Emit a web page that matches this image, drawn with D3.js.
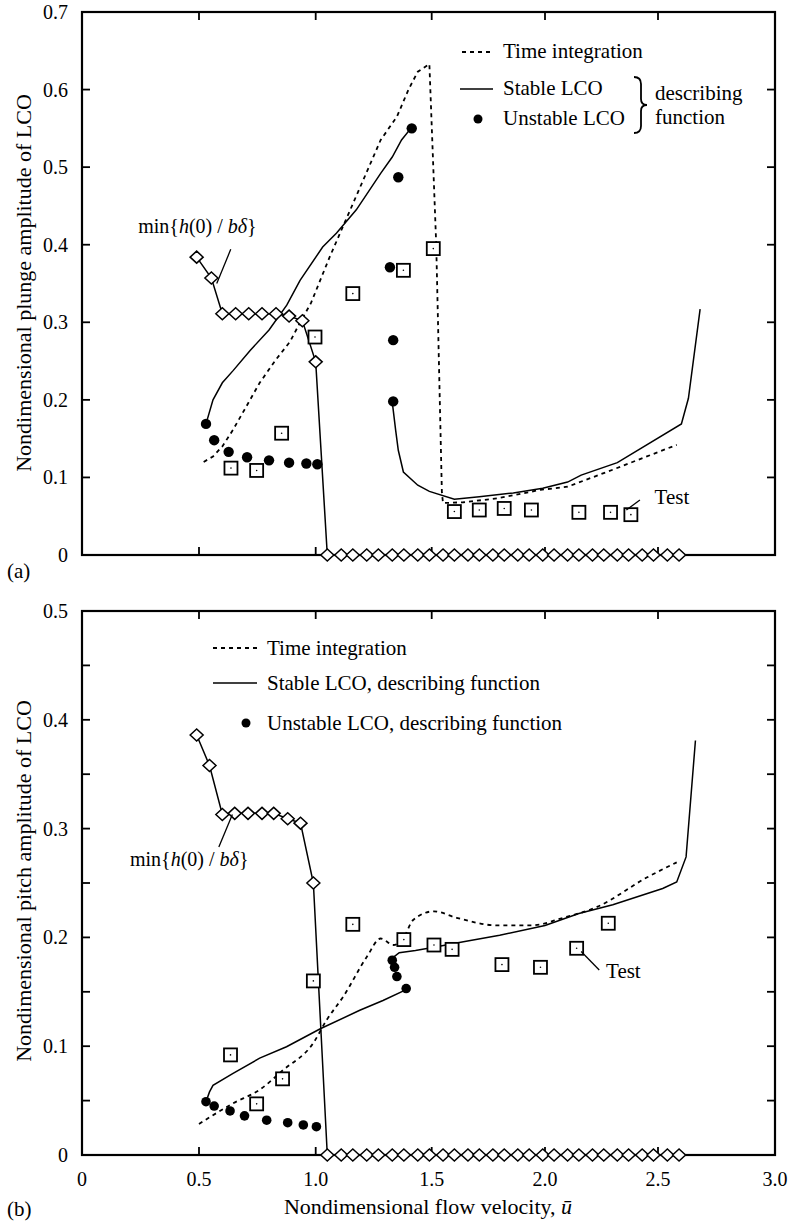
<!DOCTYPE html>
<html lang="en">
<head>
<meta charset="UTF-8">
<title>LCO amplitude vs flow velocity</title>
<script src="https://d3js.org/d3.v7.min.js"></script>
<style>
  body { margin: 0; background: #fff; }
  svg { display: block; font-family: "Liberation Serif", "Times New Roman", serif; }
  .frame { fill: none; stroke: #000; stroke-width: 2.2; }
  .tick { stroke: #000; stroke-width: 1.8; }
  .solid { fill: none; stroke: #000; stroke-width: 1.5; }
  .dashed { fill: none; stroke: #000; stroke-width: 1.8; stroke-dasharray: 4 4; }
  .sq { fill: #fff; stroke: #000; stroke-width: 1.8; }
  .dia { fill: #fff; stroke: #000; stroke-width: 1.5; }
  .leader { stroke: #000; stroke-width: 1.3; }
</style>
</head>
<body>
<svg width="790" height="1224"></svg>
<script>
// shared axes
const xTickVals = [0, 0.5, 1.0, 1.5, 2.0, 2.5, 3.0];
const xTickLabels = ["0", "0.5", "1.0", "1.5", "2.0", "2.5", "3.0"];
const plungeTickVals = [0, 0.1, 0.2, 0.3, 0.4, 0.5, 0.6, 0.7];
const plungeTickLabels = ["0", "0.1", "0.2", "0.3", "0.4", "0.5", "0.6", "0.7"];
const pitchTickVals = [0, 0.1, 0.2, 0.3, 0.4, 0.5];
const pitchTickLabels = ["0", "0.1", "0.2", "0.3", "0.4", "0.5"];
const pitchMinorVals = [0.05, 0.15, 0.25, 0.35, 0.45];

// min{h(0)/b delta} = 0 from here on (same in both panels)
const zeroDiamondU = [1.05, 1.11, 1.16, 1.22, 1.27, 1.33, 1.38, 1.44, 1.49, 1.55,
  1.60, 1.66, 1.71, 1.77, 1.82, 1.88, 1.93, 1.99, 2.04, 2.10, 2.15, 2.21, 2.26,
  2.32, 2.37, 2.43, 2.48, 2.54, 2.59];

// (a) plunge
const plungeTime = [[0.52,0.12],[0.56,0.127],[0.6,0.14],[0.645,0.161],[0.7,0.19],[0.76,0.222],
  [0.83,0.252],[0.89,0.275],[0.93,0.298],[0.98,0.325],[1.06,0.384],[1.13,0.432],[1.2,0.48],
  [1.28,0.535],[1.35,0.565],[1.4,0.6],[1.44,0.623],[1.49,0.633],[1.52,0.4],[1.545,0.08],
  [1.55,0.067],[1.64,0.068],[1.79,0.073],[1.98,0.084],[2.1,0.088],[2.3,0.11],[2.58,0.142]];
const plungeStableA = [[0.53,0.169],[0.56,0.2],[0.6,0.222],[0.647,0.238],[0.72,0.264],[0.8,0.29],
  [0.876,0.322],[0.933,0.354],[1.03,0.397],[1.09,0.415],[1.175,0.445],[1.28,0.492],[1.33,0.513],
  [1.37,0.535],[1.41,0.55]];
const plungeStableB = [[1.33,0.197],[1.345,0.16],[1.356,0.135],[1.378,0.107],[1.44,0.09],[1.49,0.082],
  [1.6,0.072],[1.71,0.075],[1.86,0.08],[1.99,0.086],[2.1,0.094],[2.16,0.103],[2.32,0.119],
  [2.6,0.169],[2.63,0.202],[2.68,0.317]];
const plungeUnstable = [[0.53,0.169],[0.565,0.148],[0.627,0.133],[0.706,0.126],[0.8,0.122],
  [0.886,0.119],[0.96,0.118],[1.007,0.117],[1.334,0.198],[1.334,0.277],[1.32,0.371],
  [1.356,0.487],[1.414,0.55]];
const plungeTest = [[0.637,0.112],[0.747,0.109],[0.854,0.157],[0.997,0.281],[1.16,0.337],
  [1.378,0.367],[1.507,0.395],[1.6,0.056],[1.71,0.058],[1.82,0.06],[1.94,0.058],
  [2.15,0.055],[2.29,0.055],[2.38,0.052]];
const plungeMinH = [[0.49,0.384],[0.553,0.357],[0.6,0.311],[0.657,0.311],[0.713,0.311],
  [0.77,0.311],[0.83,0.311],[0.886,0.308],[0.943,0.302],[1.0,0.249]];

// (b) pitch
const pitchTime = [[0.5,0.0285],[0.646,0.0475],[0.76,0.06],[0.86,0.078],[0.99,0.103],[1.047,0.124],
  [1.12,0.146],[1.22,0.182],[1.28,0.199],[1.335,0.193],[1.38,0.2],[1.42,0.216],[1.51,0.224],
  [1.61,0.218],[1.79,0.211],[1.94,0.211],[2.08,0.218],[2.23,0.228],[2.45,0.255],[2.58,0.269]];
const pitchStableA = [[0.53,0.049],[0.545,0.058],[0.56,0.064],[0.646,0.075],[0.76,0.089],
  [0.875,0.0995],[1.02,0.116],[1.19,0.133],[1.29,0.142],[1.39,0.152]];
const pitchStableB = [[1.33,0.181],[1.36,0.186],[1.43,0.188],[1.51,0.191],[1.64,0.196],[1.8,0.202],
  [2.0,0.211],[2.15,0.222],[2.3,0.23],[2.52,0.245],[2.58,0.251],[2.62,0.274],[2.66,0.381]];
const pitchUnstable = [[0.53,0.049],[0.565,0.045],[0.633,0.0405],[0.695,0.036],[0.79,0.032],
  [0.88,0.0297],[0.947,0.0276],[1.003,0.026],[1.33,0.179],[1.34,0.1725],[1.35,0.164],[1.39,0.153]];
const pitchTest = [[0.635,0.092],[0.747,0.047],[0.858,0.07],[0.99,0.16],[1.16,0.212],[1.38,0.198],
  [1.51,0.193],[1.59,0.189],[1.81,0.175],[1.98,0.1725],[2.14,0.19],[2.28,0.213]];
const pitchMinH = [[0.49,0.386],[0.545,0.358],[0.6,0.313],[0.653,0.314],[0.71,0.314],[0.77,0.314],
  [0.82,0.314],[0.88,0.309],[0.935,0.305],[0.99,0.25]];

const svg = d3.select("svg");

// the scanned axis is slightly uneven, so map each tick where it sits
const x = d3.scaleLinear()
  .domain(xTickVals)
  .range([82, 199, 315.7, 431.7, 545, 658, 775]);

function minLabel(g, px, py) {
  const t = g.append("text").attr("x", px).attr("y", py).attr("font-size", 20);
  t.append("tspan").text("min{");
  t.append("tspan").attr("font-style", "italic").text("h");
  t.append("tspan").text("(0) / ");
  t.append("tspan").attr("font-style", "italic").text("b\u03b4");
  t.append("tspan").text("}");
}

function drawPanel(cfg) {
  const y = d3.scaleLinear().domain([0, cfg.yMax]).range([cfg.bottom, cfg.top]);
  const g = svg.append("g");
  const x0 = x.range()[0], x1 = x.range()[x.range().length - 1];
  const tl = 8;

  // ticks (inward, all four sides)
  const yt = cfg.yTicks.concat(cfg.yMinor || []).filter(v => v > 0 && v < cfg.yMax);
  g.selectAll(".tl").data(yt).join("line").attr("class", "tick")
    .attr("x1", x0).attr("x2", x0 + tl).attr("y1", d => y(d)).attr("y2", d => y(d));
  g.selectAll(".tr").data(yt).join("line").attr("class", "tick")
    .attr("x1", x1).attr("x2", x1 - tl).attr("y1", d => y(d)).attr("y2", d => y(d));
  const xt = xTickVals.slice(1, -1);
  g.selectAll(".tt").data(xt).join("line").attr("class", "tick")
    .attr("x1", d => x(d)).attr("x2", d => x(d)).attr("y1", cfg.top).attr("y2", cfg.top + tl);
  g.selectAll(".tb").data(xt).join("line").attr("class", "tick")
    .attr("x1", d => x(d)).attr("x2", d => x(d)).attr("y1", cfg.bottom).attr("y2", cfg.bottom - tl);

  g.append("rect").attr("class", "frame")
    .attr("x", x0).attr("y", cfg.top).attr("width", x1 - x0).attr("height", cfg.bottom - cfg.top);

  // y tick labels
  g.selectAll(".yl").data(cfg.yTicks).join("text")
    .attr("x", 68).attr("y", d => y(d)).attr("dy", "0.35em")
    .attr("text-anchor", "end").attr("font-size", 20)
    .text((d, i) => cfg.yLabels[i]);

  // y title
  g.append("text")
    .attr("transform", `translate(23,${cfg.titleY}) rotate(-90)`)
    .attr("text-anchor", "middle").attr("dominant-baseline", "central")
    .attr("font-size", 22).text(cfg.title);

  g.append("text").attr("x", 7).attr("y", cfg.tagY).attr("font-size", 21).text(cfg.tag);

  const line = d3.line().x(d => x(d[0])).y(d => y(d[1]));
  const smooth = d3.line().x(d => x(d[0])).y(d => y(d[1])).curve(d3.curveMonotoneX);

  // min{h(0)/b delta} curve down to the zero row
  g.append("path").attr("class", "solid")
    .attr("d", line(cfg.minH.concat([[zeroDiamondU[0], 0]])));
  g.append("path").attr("class", "dashed").attr("d", (cfg.smoothTime ? smooth : line)(cfg.time));
  g.append("path").attr("class", "solid").attr("d", line(cfg.stableA));
  g.append("path").attr("class", "solid").attr("d", line(cfg.stableB));

  const diamond = (cx, cy) => `M${cx - 6.5},${cy}L${cx},${cy - 6}L${cx + 6.5},${cy}L${cx},${cy + 6}Z`;
  g.selectAll(".dz").data(zeroDiamondU).join("path").attr("class", "dia")
    .attr("d", d => diamond(x(d), y(0)));
  g.selectAll(".dm").data(cfg.minH).join("path").attr("class", "dia")
    .attr("d", d => diamond(x(d[0]), y(d[1])));

  g.selectAll(".sqm").data(cfg.test).join("rect").attr("class", "sq")
    .attr("x", d => x(d[0]) - 6.5).attr("y", d => y(d[1]) - 6.5).attr("width", 13).attr("height", 13);
  g.selectAll(".sqd").data(cfg.test).join("circle")
    .attr("cx", d => x(d[0])).attr("cy", d => y(d[1])).attr("r", 0.8).attr("fill", "#000");

  g.selectAll(".un").data(cfg.unstable).join("circle")
    .attr("cx", d => x(d[0])).attr("cy", d => y(d[1])).attr("r", cfg.dotR).attr("fill", "#000");

  // annotations
  g.append("line").attr("class", "leader")
    .attr("x1", x(cfg.minLead[0][0])).attr("y1", y(cfg.minLead[0][1]))
    .attr("x2", x(cfg.minLead[1][0])).attr("y2", y(cfg.minLead[1][1]));
  minLabel(g, x(cfg.minText[0]), y(cfg.minText[1]));
  g.append("line").attr("class", "leader")
    .attr("x1", x(cfg.testLead[0][0])).attr("y1", y(cfg.testLead[0][1]))
    .attr("x2", x(cfg.testLead[1][0])).attr("y2", y(cfg.testLead[1][1]));
  g.append("text").attr("x", x(cfg.testText[0])).attr("y", y(cfg.testText[1]))
    .attr("font-size", 21).text("Test");

  return g;
}

// ---- panel (a)
const ga = drawPanel({
  top: 12, bottom: 555, yMax: 0.7,
  yTicks: plungeTickVals, yLabels: plungeTickLabels,
  title: "Nondimensional plunge amplitude of LCO", titleY: 283,
  tag: "(a)", tagY: 578,
  time: plungeTime, stableA: plungeStableA, stableB: plungeStableB,
  unstable: plungeUnstable, test: plungeTest, minH: plungeMinH, dotR: 5.2,
  minLead: [[0.636, 0.394], [0.576, 0.35]], minText: [0.24, 0.415],
  testLead: [[2.36, 0.058], [2.42, 0.071]], testText: [2.485, 0.066]
});

// legend (a)
const la = { x: 460, y: 52 };
ga.append("line").attr("class", "dashed")
  .attr("x1", la.x + 2).attr("x2", la.x + 34).attr("y1", la.y).attr("y2", la.y);
ga.append("text").attr("x", la.x + 43).attr("y", la.y + 6).attr("font-size", 21).text("Time integration");
ga.append("line").attr("class", "solid").attr("stroke-width", 2)
  .attr("x1", la.x).attr("x2", la.x + 33).attr("y1", la.y + 37).attr("y2", la.y + 37);
ga.append("text").attr("x", la.x + 43).attr("y", la.y + 43).attr("font-size", 21).text("Stable LCO");
ga.append("circle").attr("cx", la.x + 18).attr("cy", la.y + 67).attr("r", 4.5).attr("fill", "#000");
ga.append("text").attr("x", la.x + 43).attr("y", la.y + 73).attr("font-size", 21).text("Unstable LCO");
const bx = la.x + 178, bt = la.y + 25, bb = la.y + 81, bm = (bt + bb) / 2;
ga.append("path").attr("fill", "none").attr("stroke", "#000").attr("stroke-width", 1.8)
  .attr("d", `M${bx - 4},${bt}Q${bx + 3},${bt} ${bx + 3},${bt + 7}L${bx + 3},${bm - 6}` +
    `Q${bx + 3},${bm} ${bx + 9},${bm}Q${bx + 3},${bm} ${bx + 3},${bm + 6}` +
    `L${bx + 3},${bb - 7}Q${bx + 3},${bb} ${bx - 4},${bb}`);
ga.append("text").attr("x", bx + 17).attr("y", la.y + 48).attr("font-size", 21).text("describing");
ga.append("text").attr("x", bx + 17).attr("y", la.y + 72).attr("font-size", 21).text("function");

// ---- panel (b)
const gb = drawPanel({
  top: 611, bottom: 1155, yMax: 0.5,
  yTicks: pitchTickVals, yLabels: pitchTickLabels, yMinor: pitchMinorVals,
  title: "Nondimensional pitch amplitude of LCO", titleY: 881,
  tag: "(b)", tagY: 1216,
  time: pitchTime, smoothTime: true, stableA: pitchStableA, stableB: pitchStableB,
  unstable: pitchUnstable, test: pitchTest, minH: pitchMinH, dotR: 4.8,
  minLead: [[0.643, 0.313], [0.585, 0.283]], minText: [0.205, 0.266],
  testLead: [[2.16, 0.187], [2.24, 0.170]], testText: [2.27, 0.163]
});

// legend (b)
const lb = { x: 213, y: 648 };
gb.append("line").attr("class", "dashed")
  .attr("x1", lb.x).attr("x2", lb.x + 44).attr("y1", lb.y).attr("y2", lb.y);
gb.append("text").attr("x", lb.x + 54).attr("y", lb.y + 7).attr("font-size", 21).text("Time integration");
gb.append("line").attr("class", "solid").attr("stroke-width", 2)
  .attr("x1", lb.x).attr("x2", lb.x + 44).attr("y1", lb.y + 35).attr("y2", lb.y + 35);
gb.append("text").attr("x", lb.x + 54).attr("y", lb.y + 42).attr("font-size", 21)
  .text("Stable LCO, describing function");
gb.append("circle").attr("cx", lb.x + 33).attr("cy", lb.y + 75).attr("r", 4.5).attr("fill", "#000");
gb.append("text").attr("x", lb.x + 54).attr("y", lb.y + 82).attr("font-size", 21)
  .text("Unstable LCO, describing function");

// x axis labels (bottom panel only)
gb.selectAll(".xl").data(xTickVals).join("text")
  .attr("x", d => x(d)).attr("y", 1186).attr("text-anchor", "middle").attr("font-size", 20)
  .text((d, i) => xTickLabels[i]);
const xt = gb.append("text").attr("x", 428).attr("y", 1214).attr("text-anchor", "middle").attr("font-size", 22);
xt.append("tspan").text("Nondimensional flow velocity, ");
xt.append("tspan").attr("font-style", "italic").text("\u016b");
</script>
</body>
</html>
